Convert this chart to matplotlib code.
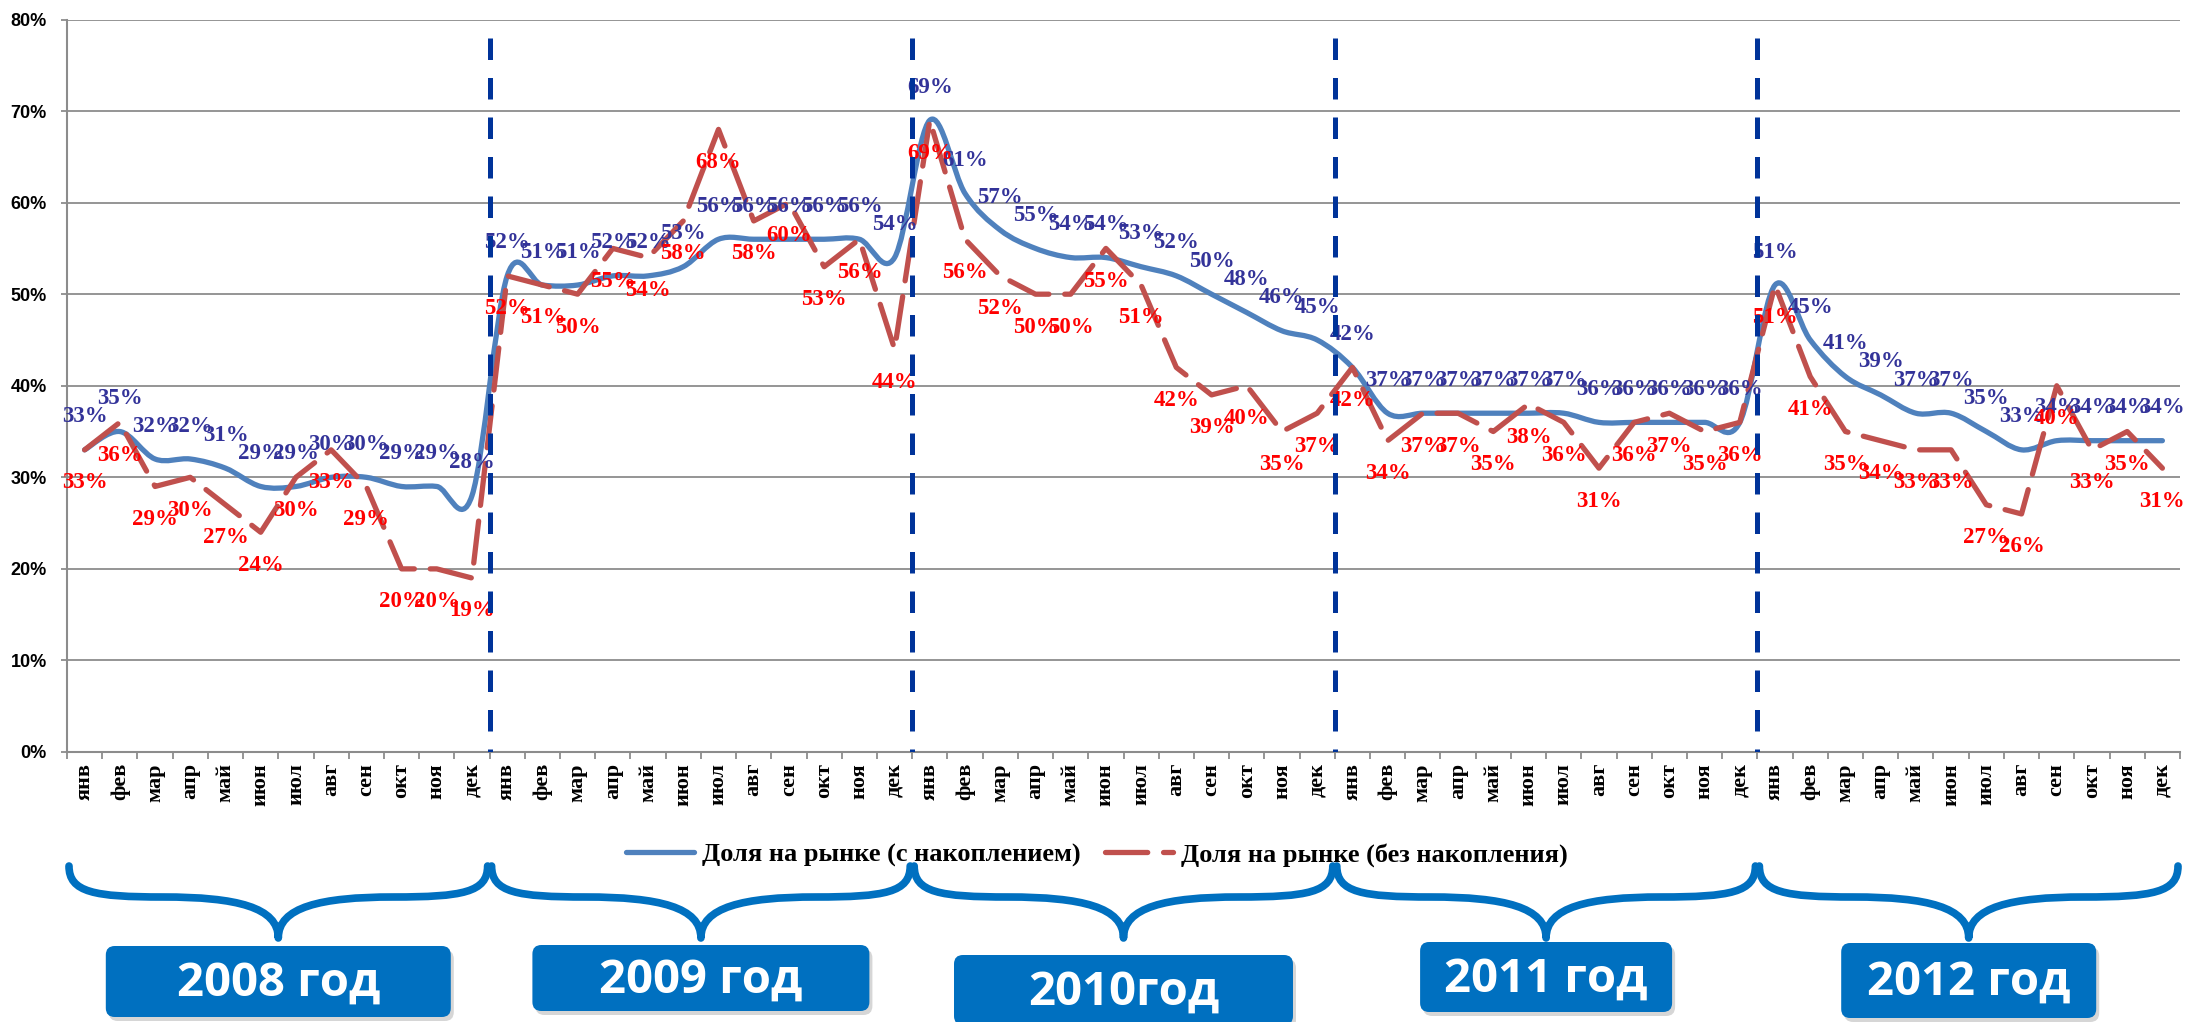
import numpy as np
import matplotlib
matplotlib.use("Agg")
import matplotlib.pyplot as plt
from matplotlib.path import Path
from matplotlib.patches import PathPatch, FancyBboxPatch
from matplotlib.lines import Line2D
from matplotlib.ticker import FuncFormatter, FixedLocator

# ---------------- data ----------------
months = ["янв", "фев", "мар", "апр", "май", "июн",
          "июл", "авг", "сен", "окт", "ноя", "дек"]
years = ["2008 год", "2009 год", "2010год", "2011 год", "2012 год"]

share_cum = [33, 35, 32, 32, 31, 29, 29, 30, 30, 29, 29, 28,
             52, 51, 51, 52, 52, 53, 56, 56, 56, 56, 56, 54,
             69, 61, 57, 55, 54, 54, 53, 52, 50, 48, 46, 45,
             42, 37, 37, 37, 37, 37, 37, 36, 36, 36, 36, 36,
             51, 45, 41, 39, 37, 37, 35, 33, 34, 34, 34, 34]
share_month = [33, 36, 29, 30, 27, 24, 30, 33, 29, 20, 20, 19,
               52, 51, 50, 55, 54, 58, 68, 58, 60, 53, 56, 44,
               69, 56, 52, 50, 50, 55, 51, 42, 39, 40, 35, 37,
               42, 34, 37, 37, 35, 38, 36, 31, 36, 37, 35, 36,
               51, 41, 35, 34, 33, 33, 27, 26, 40, 33, 35, 31]
legend_labels = ["Доля на рынке (с накоплением)", "Доля на рынке (без накопления)"]

# ---------------- style ----------------
W, H = 2185, 1022
BLUE = "#4F81BD"
RED = "#C0504D"
NAVY = "#003399"
LBL_BLUE = "#333399"
LBL_RED = "#FF0000"
GRID = "#8C8C8C"
BOX = "#0070C0"
SERIF = ["Liberation Serif", "DejaVu Serif"]
SANS = ["Liberation Sans", "DejaVu Sans"]

n = len(share_cum)
x = np.arange(n)
yc = np.array(share_cum) / 100.0
ym = np.array(share_month) / 100.0
labels_x = months * len(years)

fig = plt.figure(figsize=(W / 100, H / 100), dpi=100)
fig.patch.set_facecolor("white")
ax = fig.add_axes([67 / W, 1 - 752 / H, (2180 - 67) / W, (752 - 19.5) / H])
ax.set_xlim(-0.5, n - 0.5)
ax.set_ylim(0, 0.8)

# grid / spines
ax.set_yticks(np.arange(0, 0.81, 0.1))
ax.yaxis.set_major_formatter(FuncFormatter(lambda v, p: f"{v*100:.0f}%"))
ax.grid(axis="y", color=GRID, lw=1.3)
ax.set_axisbelow(True)
for s in ["top", "right"]:
    ax.spines[s].set_visible(False)
for s in ["left", "bottom"]:
    ax.spines[s].set_color(GRID)
    ax.spines[s].set_linewidth(1.5)
ax.tick_params(axis="y", length=4.5, color=GRID, width=1.3, pad=10,
               labelsize=13)
for t in ax.get_yticklabels():
    t.set_fontfamily(SANS)
    t.set_fontweight("bold")

ax.set_xticks(x)
ax.set_xticklabels(labels_x, rotation=90, fontfamily=SERIF, fontweight="bold",
                   fontsize=16)
ax.tick_params(axis="x", which="major", length=0, pad=8)
ax.xaxis.set_minor_locator(FixedLocator(np.arange(-0.5, n, 1.0)))
ax.tick_params(axis="x", which="minor", length=5, color=GRID, width=1.3)


# smoothed (Excel-like Bezier) path for the cumulative series
def smooth_path(xs, ys):
    pts = np.column_stack([xs, ys])
    verts = [pts[0]]
    codes = [Path.MOVETO]
    m = len(pts)
    for i in range(m - 1):
        p_prev = pts[i - 1] if i > 0 else pts[i]
        p_next2 = pts[i + 2] if i + 2 < m else pts[i + 1]
        c1 = pts[i] + (pts[i + 1] - p_prev) / 6.0
        c2 = pts[i + 1] - (p_next2 - pts[i]) / 6.0
        verts += [c1, c2, pts[i + 1]]
        codes += [Path.CURVE4] * 3
    return Path(verts, codes)


ax.add_patch(PathPatch(smooth_path(x, yc), fill=False, edgecolor=BLUE,
                       lw=3.8, capstyle="round", joinstyle="round", zorder=3))
ax.plot(x, ym, color=RED, lw=3.8, dashes=(8, 3), dash_capstyle="round",
        solid_joinstyle="round", zorder=4)

# data labels
for xi, v in zip(x, share_cum):
    ax.text(xi, v / 100 + 0.036, f"{v}%", ha="center", va="center",
            color=LBL_BLUE, fontsize=16.5, fontweight="bold",
            fontfamily=SERIF, zorder=5)
for xi, v in zip(x, share_month):
    ax.text(xi, v / 100 - 0.036, f"{v}%", ha="center", va="center",
            color=LBL_RED, fontsize=16.5, fontweight="bold",
            fontfamily=SERIF, zorder=5)

# year separators
for k in range(1, len(years)):
    ax.plot([12 * k - 0.5, 12 * k - 0.5], [0.78, 0.0], color=NAVY, lw=3.6,
            dashes=(4.3, 3.6), zorder=6, solid_capstyle="butt")

# legend
handles = [Line2D([], [], color=BLUE, lw=3.8, solid_capstyle="round"),
           Line2D([], [], color=RED, lw=3.8, dashes=(8, 3),
                  dash_capstyle="round")]
leg = fig.legend(handles, legend_labels, loc="center",
                 bbox_to_anchor=(0.502, 1 - 855 / H), ncol=2, frameon=False,
                 handlelength=2.6, handletextpad=0.3, columnspacing=0.9,
                 prop={"family": SERIF, "weight": "bold", "size": 19})

# overlay for braces and year boxes (pixel coordinates)
ov = fig.add_axes([0, 0, 1, 1], zorder=-1)
ov.set_xlim(0, W)
ov.set_ylim(H, 0)
ov.axis("off")
ov.patch.set_alpha(0)

fig.canvas.draw()
bounds = [ax.transData.transform((12 * k - 0.5, 0))[0] for k in range(len(years) + 1)]

yt, yh, yb = 866, 897, 938
box_w = [345, 337, 339, 252, 255]
box_top = [946, 945, 955, 942, 943]
box_h = [71, 66, 70, 70, 75]
for k in range(len(years)):
    x0, x1 = bounds[k] + 2, bounds[k + 1] - 2
    xm = (x0 + x1) / 2
    h = xm - x0
    verts = [(x0, yt), (x0, yt + 0.85 * (yh - yt)), (x0 + 0.12 * h, yh), (x0 + 0.45 * h, yh),
             (x0 + 0.8 * h, yh), (xm, yh + 0.25 * (yb - yh)), (xm, yb),
             (xm, yh + 0.25 * (yb - yh)), (x1 - 0.8 * h, yh), (x1 - 0.45 * h, yh),
             (x1 - 0.12 * h, yh), (x1, yt + 0.85 * (yh - yt)), (x1, yt)]
    codes = [Path.MOVETO] + [Path.CURVE4] * 12
    ov.add_patch(PathPatch(Path(verts, codes), fill=False, edgecolor=BOX,
                           lw=5.5, capstyle="round", joinstyle="round"))
    bw = box_w[k]
    # shadow
    ov.add_patch(FancyBboxPatch((xm - bw / 2 + 3, box_top[k] + 4), bw, box_h[k],
                                boxstyle="round,pad=0,rounding_size=9",
                                facecolor="#BBBBBB", edgecolor="none", alpha=0.6))
    ov.add_patch(FancyBboxPatch((xm - bw / 2, box_top[k]), bw, box_h[k],
                                boxstyle="round,pad=0,rounding_size=9",
                                facecolor=BOX, edgecolor="none"))
    ov.text(xm, box_top[k] + box_h[k] / 2 + 2, years[k], ha="center", va="center",
            color="white", fontsize=34, fontweight="bold",
            fontfamily=["Open Sans", "DejaVu Sans"])

fig.savefig("out.png", dpi=100, facecolor="white")
